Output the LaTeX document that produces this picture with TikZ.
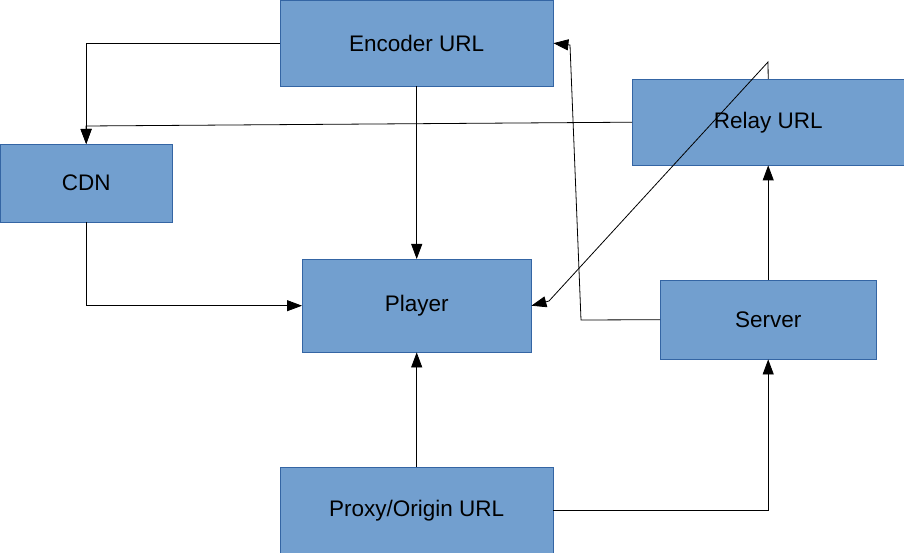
\documentclass[tikz,border=0pt]{standalone}
\usepackage{fontspec}
\setmainfont{Liberation Sans}
\usepackage{tikz}
\usetikzlibrary{
    positioning,      % For placing nodes relative to each other
    arrows.meta       % For modern arrow tips
}

\definecolor{boxfill}{HTML}{729FCF}
\definecolor{boxline}{HTML}{3465A4}

\begin{document}
\begin{tikzpicture}[
    x=1pt, y=-1pt,
    % Style for the blue boxes
    url_box/.style={
        draw=boxline,
        fill=boxfill,
        font=\fontsize{22.5}{26}\selectfont,
        inner sep=0pt,
        anchor=north west
    },
    % Style for the connectors
    link_line/.style={
        black,
        line width=0.8pt
    },
    % Style for arrowheads
    arrow_tip/.style={
        -{Triangle[length=15pt, width=11pt]}
    }
]
    \useasboundingbox (0,0) rectangle (904,553);

    % 1. Place the boxes.
    \node[url_box, minimum width=273pt, minimum height=86pt] (encoder) at (280,0) {Encoder URL};
    \node[url_box, minimum width=272pt, minimum height=86pt] (relay) at (632,79) {Relay URL};
    \node[url_box, minimum width=172pt, minimum height=78pt] (cdn) at (0,144) {CDN};
    \node[url_box, minimum width=229pt, minimum height=93pt] (player) at (302,259) {Player};
    \node[url_box, minimum width=216pt, minimum height=79pt] (server) at (660,280) {Server};
    \node[url_box, minimum width=273pt, minimum height=86pt] (proxy) at (280,467) {Proxy/Origin URL};

    % 2. Bend points for the connectors.
    \coordinate (cdn_in) at (86,126);
    \coordinate (relay_top) at (768,62);
    \coordinate (player_in) at (549,301);
    \coordinate (server_turn) at (581,320);
    \coordinate (encoder_in) at (570,45);

    % 3. Draw the connectors.
    % --- into CDN
    \draw[link_line, arrow_tip] (encoder.west) -| (cdn.north);
    \draw[link_line, arrow_tip] (relay.west) -- (cdn_in) -- (cdn.north);

    % --- into Player
    \draw[link_line, arrow_tip] (encoder.south) -- (player.north);
    \draw[link_line, arrow_tip] (cdn.south) |- (player.west);
    \draw[link_line, arrow_tip] (proxy.north) -- (player.south);
    \draw[link_line, arrow_tip] (relay.north) -- (relay_top) -- (player_in) -- (player.east);

    % --- out of Server
    \draw[link_line, arrow_tip] (server.west) -- (server_turn) -- (encoder_in) -- (encoder.east);
    \draw[link_line, arrow_tip] (server.north) -- (relay.south);
    \draw[link_line, arrow_tip] (proxy.east) -| (server.south);

\end{tikzpicture}
\end{document}
